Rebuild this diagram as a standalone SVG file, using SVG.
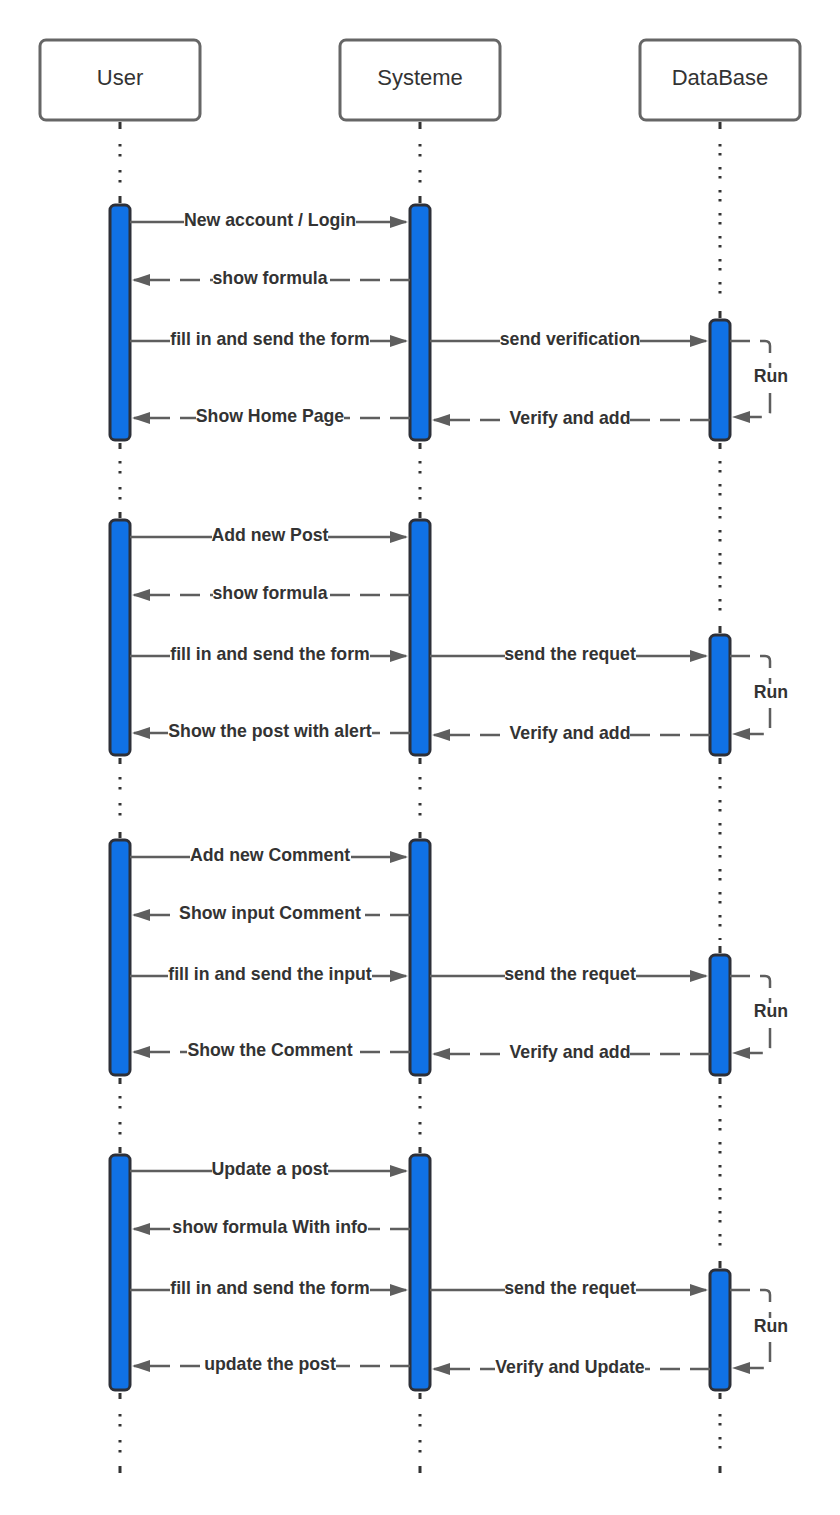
<svg xmlns="http://www.w3.org/2000/svg" width="840" height="1515" viewBox="0 0 840 1515">
<style>
.box{fill:#fff;stroke:#666;stroke-width:3}
.title{font-family:"Liberation Sans",Arial,sans-serif;font-size:22px;fill:#333;text-anchor:middle}
.life{fill:none;stroke:#333;stroke-width:3}
.dots{fill:none;stroke:#333;stroke-width:3;stroke-dasharray:2.5 7.5 2.5 13.5}
.act{fill:#1071e5;stroke:#2d3039;stroke-width:3}
.msg{fill:none;stroke:#5e5e5e;stroke-width:2.5;marker-end:url(#ah)}
.dash{stroke-dasharray:20 10}
.lbl{font-family:"Liberation Sans",Arial,sans-serif;font-size:17.7px;font-weight:bold;fill:#333;text-anchor:middle}
.bg{fill:#fff}
</style>
<defs>
<marker id="ah" markerUnits="userSpaceOnUse" markerWidth="18" markerHeight="14" viewBox="0 0 18 14" refX="16" refY="7" orient="auto">
<path d="M0,1 L18,7 L0,13 z" fill="#5e5e5e"/>
</marker>
</defs>
<rect width="840" height="1515" fill="#fff"/>

<g id="lifelines">
<path class="life" d="M120,122v7M120,196v7M120,443v6M120,512v6M120,758v6M120,832v6M120,1078v6M120,1147v6M120,1393v6M120,1466v7"/>
<path class="dots" d="M120,144V190M120,461V500M120,777V820M120,1096V1140M120,1414V1460"/>
<path class="life" d="M420,122v7M420,196v7M420,443v6M420,512v6M420,758v6M420,832v6M420,1078v6M420,1147v6M420,1393v6M420,1466v7"/>
<path class="dots" d="M420,144V190M420,461V500M420,777V820M420,1096V1140M420,1414V1460"/>
<path class="life" d="M720,122v7M720,311v7M720,443v6M720,626v7M720,758v6M720,946v7M720,1078v6M720,1261v7M720,1393v6M720,1466v7"/>
<path class="dots" style="stroke-dasharray:2.5 6.5 2.5 11.5" d="M720,144V305M720,461V620M720,777V940M720,1096V1255M720,1414V1460"/>
</g>

<g id="user"><rect class="box" x="40" y="40" width="160" height="80" rx="6"/><text class="title" x="120" y="85">User</text></g>
<g id="systeme"><rect class="box" x="340" y="40" width="160" height="80" rx="6"/><text class="title" x="420" y="85">Systeme</text></g>
<g id="database"><rect class="box" x="640" y="40" width="160" height="80" rx="6"/><text class="title" x="720" y="85">DataBase</text></g>

<g id="activations">
<rect class="act" x="110" y="205" width="20" height="235" rx="5"/>
<rect class="act" x="410" y="205" width="20" height="235" rx="5"/>
<rect class="act" x="710" y="320" width="20" height="120" rx="5"/>
<rect class="act" x="110" y="520" width="20" height="235" rx="5"/>
<rect class="act" x="410" y="520" width="20" height="235" rx="5"/>
<rect class="act" x="710" y="635" width="20" height="120" rx="5"/>
<rect class="act" x="110" y="840" width="20" height="235" rx="5"/>
<rect class="act" x="410" y="840" width="20" height="235" rx="5"/>
<rect class="act" x="710" y="955" width="20" height="120" rx="5"/>
<rect class="act" x="110" y="1155" width="20" height="235" rx="5"/>
<rect class="act" x="410" y="1155" width="20" height="235" rx="5"/>
<rect class="act" x="710" y="1270" width="20" height="120" rx="5"/>
</g>

<g id="connectors">
<!-- block 1 -->
<path class="msg" d="M130,222H406"/>
<path class="msg dash" d="M410,280H134"/>
<path class="msg" d="M130,341H406"/>
<path class="msg" d="M430,341H706"/>
<path class="msg dash" d="M410,418H134"/>
<path class="msg dash" d="M710,420H434"/>
<path class="msg dash" d="M730,341H765Q770,341 770,346V412Q770,417 765,417H734"/>
<!-- block 2 -->
<path class="msg" d="M130,537H406"/>
<path class="msg dash" d="M410,595H134"/>
<path class="msg" d="M130,656H406"/>
<path class="msg" d="M430,656H706"/>
<path class="msg dash" d="M410,733H134"/>
<path class="msg dash" d="M710,735H434"/>
<path class="msg dash" d="M730,656H765Q770,656 770,661V729Q770,734 765,734H734"/>
<!-- block 3 -->
<path class="msg" d="M130,857H406"/>
<path class="msg dash" d="M410,915H134"/>
<path class="msg" d="M130,976H406"/>
<path class="msg" d="M430,976H706"/>
<path class="msg dash" d="M410,1052H134"/>
<path class="msg dash" d="M710,1054H434"/>
<path class="msg dash" d="M730,976H765Q770,976 770,981V1048Q770,1053 765,1053H734"/>
<!-- block 4 -->
<path class="msg" d="M130,1171H406"/>
<path class="msg dash" d="M410,1229H134"/>
<path class="msg" d="M130,1290H406"/>
<path class="msg" d="M430,1290H706"/>
<path class="msg dash" d="M410,1366H134"/>
<path class="msg dash" d="M710,1369H434"/>
<path class="msg dash" d="M730,1290H765Q770,1290 770,1295V1363Q770,1368 765,1368H734"/>
</g>

<g id="labels">
<rect class="bg" x="184" y="217" width="172" height="10"/><text class="lbl" x="270" y="226">New account / Login</text>
<rect class="bg" x="213" y="275" width="114" height="10"/><text class="lbl" x="270" y="284">show formula</text>
<rect class="bg" x="170" y="336" width="200" height="10"/><text class="lbl" x="270" y="345">fill in and send the form</text>
<rect class="bg" x="500" y="336" width="140" height="10"/><text class="lbl" x="570" y="345">send verification</text>
<rect class="bg" x="196" y="413" width="148" height="10"/><text class="lbl" x="270" y="422">Show Home Page</text>
<rect class="bg" x="510" y="415" width="120" height="10"/><text class="lbl" x="570" y="424">Verify and add</text>
<rect class="bg" x="754" y="368" width="34" height="21"/><text class="lbl" x="771" y="382">Run</text>

<rect class="bg" x="212" y="532" width="116" height="10"/><text class="lbl" x="270" y="541">Add new Post</text>
<rect class="bg" x="213" y="590" width="114" height="10"/><text class="lbl" x="270" y="599">show formula</text>
<rect class="bg" x="170" y="651" width="200" height="10"/><text class="lbl" x="270" y="660">fill in and send the form</text>
<rect class="bg" x="505" y="651" width="131" height="10"/><text class="lbl" x="570" y="660">send the requet</text>
<rect class="bg" x="168" y="728" width="204" height="10"/><text class="lbl" x="270" y="737">Show the post with alert</text>
<rect class="bg" x="510" y="730" width="120" height="10"/><text class="lbl" x="570" y="739">Verify and add</text>
<rect class="bg" x="754" y="684" width="34" height="21"/><text class="lbl" x="771" y="698">Run</text>

<rect class="bg" x="190" y="852" width="161" height="10"/><text class="lbl" x="270" y="861">Add new Comment</text>
<rect class="bg" x="175" y="910" width="190" height="10"/><text class="lbl" x="270" y="919">Show input Comment</text>
<rect class="bg" x="168" y="971" width="204" height="10"/><text class="lbl" x="270" y="980">fill in and send the input</text>
<rect class="bg" x="505" y="971" width="131" height="10"/><text class="lbl" x="570" y="980">send the requet</text>
<rect class="bg" x="187" y="1047" width="166" height="10"/><text class="lbl" x="270" y="1056">Show the Comment</text>
<rect class="bg" x="510" y="1049" width="120" height="10"/><text class="lbl" x="570" y="1058">Verify and add</text>
<rect class="bg" x="754" y="1003" width="34" height="21"/><text class="lbl" x="771" y="1017">Run</text>

<rect class="bg" x="212" y="1166" width="116" height="10"/><text class="lbl" x="270" y="1175">Update a post</text>
<rect class="bg" x="173" y="1224" width="195" height="10"/><text class="lbl" x="270" y="1233">show formula With info</text>
<rect class="bg" x="170" y="1285" width="200" height="10"/><text class="lbl" x="270" y="1294">fill in and send the form</text>
<rect class="bg" x="505" y="1285" width="131" height="10"/><text class="lbl" x="570" y="1294">send the requet</text>
<rect class="bg" x="204" y="1361" width="132" height="10"/><text class="lbl" x="270" y="1370">update the post</text>
<rect class="bg" x="495" y="1364" width="150" height="10"/><text class="lbl" x="570" y="1373">Verify and Update</text>
<rect class="bg" x="754" y="1318" width="34" height="21"/><text class="lbl" x="771" y="1332">Run</text>
</g>
</svg>
